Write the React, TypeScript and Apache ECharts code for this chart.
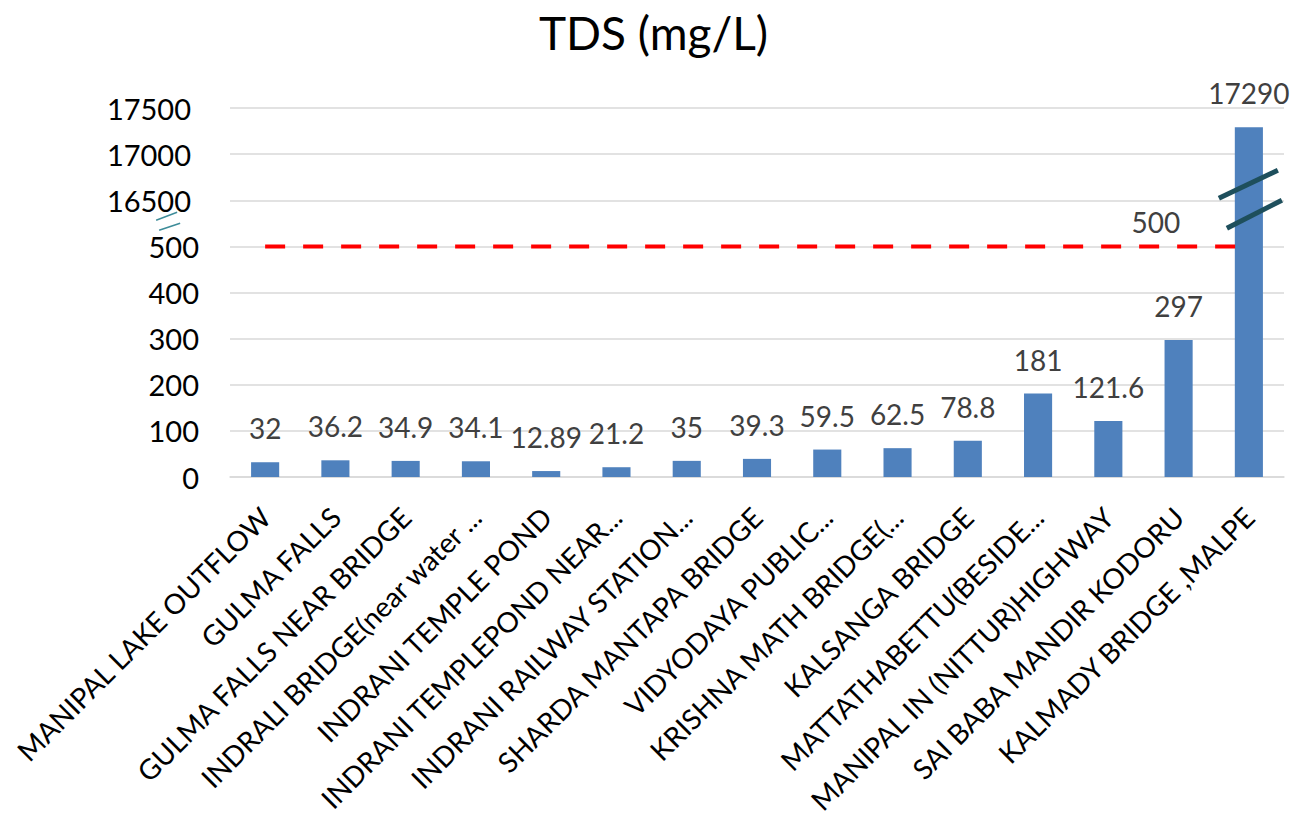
import React, { useEffect, useRef } from "react";
import * as echarts from "echarts";

const categories = [
  "MANIPAL LAKE OUTFLOW",
  "GULMA FALLS",
  "GULMA FALLS NEAR BRIDGE",
  "INDRALI BRIDGE(near water ...",
  "INDRANI TEMPLE POND",
  "INDRANI TEMPLEPOND NEAR...",
  "INDRANI RAILWAY STATION...",
  "SHARDA MANTAPA BRIDGE",
  "VIDYODAYA PUBLIC...",
  "KRISHNA MATH BRIDGE(...",
  "KALSANGA BRIDGE",
  "MATTATHABETTU(BESIDE...",
  "MANIPAL IN (NITTUR)HIGHWAY",
  "SAI BABA MANDIR KODORU",
  "KALMADY BRIDGE ,MALPE",
];

const tdsValues = [32, 36.2, 34.9, 34.1, 12.89, 21.2, 35, 39.3, 59.5, 62.5, 78.8, 181, 121.6, 297, 17290];
const limitValues = [500, 500, 500, 500, 500, 500, 500, 500, 500, 500, 500, 500, 500, 500, 500];
const limitLabel = 500;

// broken axis: 0..500 linear, then 16500..17500 compressed (500 units per 100 axis units)
const BREAK_LOW = 500;
const BREAK_HIGH = 16500;
const toAxis = (v: number) => (v <= BREAK_LOW ? v : 600 + (v - BREAK_HIGH) / 5);
const fromAxis = (a: number) => (a <= BREAK_LOW ? a : BREAK_HIGH + (a - 600) * 5);

const FONT = "Lato, 'Open Sans', sans-serif";

export default function App() {
  const ref = useRef<HTMLDivElement>(null);

  useEffect(() => {
    document.body.style.margin = "0";
    if (!ref.current) return;
    const chart = echarts.init(ref.current, null, { renderer: "svg" });

    const option: any = {
      animation: false,
      backgroundColor: "#ffffff",
      title: {
        text: "TDS (mg/L)",
        left: "center",
        top: 4,
        textStyle: { fontFamily: FONT, fontSize: 46, fontWeight: "normal", color: "#000000" },
      },
      grid: {
        left: 230,
        right: 23,
        top: 108,
        bottom: 350,
        containLabel: false,
        outerBoundsMode: "none",
      },
      xAxis: {
        type: "category",
        data: categories,
        axisTick: { show: false },
        axisLine: { show: true, lineStyle: { color: "#d9d9d9", width: 1.5 } },
        axisLabel: {
          interval: 0,
          rotate: 45,
          margin: 35,
          fontFamily: FONT,
          fontSize: 28,
          color: "#000000",
        },
      },
      yAxis: {
        type: "value",
        min: 0,
        max: 800,
        interval: 100,
        axisLine: { show: false },
        axisTick: { show: false },
        splitLine: { lineStyle: { color: "#d9d9d9", width: 1.5 } },
        axisLabel: {
          margin: 31,
          fontFamily: FONT,
          fontSize: 29,
          color: "#000000",
          formatter: (a: number) => {
            const v = Math.round(fromAxis(a));
            return a > BREAK_LOW ? `{u|${v}}` : `${v}`;
          },
          rich: {
            u: { fontFamily: FONT, fontSize: 29, color: "#000000", padding: [0, 8, 0, 0] },
          },
        },
      },
      series: [
        {
          type: "bar",
          name: "TDS",
          data: tdsValues.map((v) => toAxis(v)),
          barWidth: "40%",
          itemStyle: { color: "#4f81bd" },
          label: {
            show: true,
            position: "top",
            distance: 20,
            fontFamily: FONT,
            fontSize: 28,
            color: "#404040",
            formatter: (p: any) => String(tdsValues[p.dataIndex]),
          },
          z: 2,
        },
        {
          type: "line",
          name: "Limit",
          data: limitValues.map((v) => toAxis(v)),
          symbol: "none",
          lineStyle: { color: "#ff0000", width: 4, type: [20, 18] },
          markPoint: {
            symbol: "circle",
            symbolSize: 0,
            silent: true,
            data: [{ coord: [categories.length - 1, toAxis(limitLabel)], value: limitLabel }],
            label: {
              show: true,
              position: "top",
              distance: 10,
              offset: [-93, 0],
              fontFamily: FONT,
              fontSize: 28,
              color: "#404040",
              formatter: () => String(limitLabel),
            },
          },
          z: 3,
        },
        {
          type: "custom",
          name: "breaks",
          data: [[categories.length - 1, 600, 0, 550]],
          renderItem: (params: any, api: any) => {
            const p = api.coord([api.value(0), api.value(1)]);
            const q = api.coord([0, api.value(3)]);
            const thick = { stroke: "#1e4f5c", lineWidth: 5, lineCap: "butt" };
            const thin = { stroke: "#3d8c99", lineWidth: 1.5 };
            return {
              type: "group",
              children: [
                { type: "line", shape: { x1: p[0] - 30, y1: p[1] - 2, x2: p[0] + 29, y2: p[1] - 30 }, style: thick },
                { type: "line", shape: { x1: p[0] - 22, y1: p[1] + 28, x2: p[0] + 33, y2: p[1] }, style: thick },
                { type: "line", shape: { x1: q[0] - 109, y1: q[1] - 3, x2: q[0] - 88, y2: q[1] - 11 }, style: thin },
                { type: "line", shape: { x1: q[0] - 106, y1: q[1] + 7, x2: q[0] - 85, y2: q[1] }, style: thin },
              ],
            };
          },
          silent: true,
          z: 10,
        },
      ],
    };

    chart.setOption(option);
    return () => chart.dispose();
  }, []);

  return <div ref={ref} style={{ width: 1307, height: 827 }} />;
}
